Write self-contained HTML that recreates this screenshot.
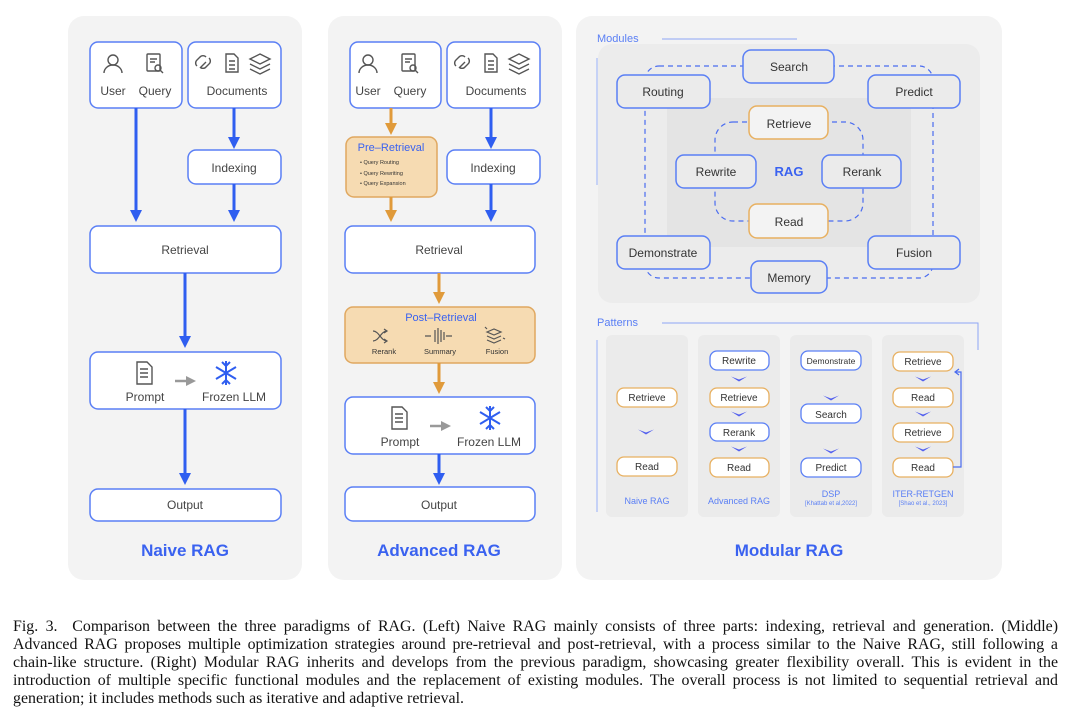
<!DOCTYPE html>
<html><head><meta charset="utf-8"><style>
body{margin:0;width:1080px;height:711px;background:#fff;position:relative;overflow:hidden;font-family:"Liberation Sans",sans-serif}
svg{position:absolute;left:0;top:0}
.cap{position:absolute;left:13px;width:1045px;font-family:"Liberation Serif",serif;font-size:15.9px;color:#111;text-align:justify;text-align-last:justify;white-space:nowrap;line-height:18px}
</style></head><body>
<svg width="1080" height="600" viewBox="0 0 1080 600" font-family="Liberation Sans, sans-serif">
<defs>
<marker id="ab" markerWidth="4" markerHeight="4" refX="2" refY="2" orient="auto" markerUnits="strokeWidth"><path d="M0,0 L4,2 L0,4 z" fill="#2f5ef0"/></marker>
<marker id="ao" markerWidth="4" markerHeight="4" refX="2" refY="2" orient="auto" markerUnits="strokeWidth"><path d="M0,0 L4,2 L0,4 z" fill="#e09a3a"/></marker>
<marker id="ag" markerWidth="4" markerHeight="4" refX="2" refY="2" orient="auto" markerUnits="strokeWidth"><path d="M0,0 L4,2 L0,4 z" fill="#999"/></marker>
<marker id="af" markerWidth="6" markerHeight="6" refX="3" refY="3" orient="auto" markerUnits="strokeWidth"><path d="M0,0 L6,3 L0,6" fill="none" stroke="#4a6cf0" stroke-width="1"/></marker>
<g id="chev"><path d="M-8,-2.5 L0,2.5 L8,-2.5 L0,0.5 z" fill="#5360ee"/></g>
</defs>
<rect x="68" y="16" width="234" height="564" rx="16" fill="#f3f3f3"/>
<rect x="328" y="16" width="234" height="564" rx="16" fill="#f3f3f3"/>
<rect x="576" y="16" width="426" height="564" rx="16" fill="#f3f3f3"/>

<g fill="#fff" stroke="#5a7ff5" stroke-width="1.5">
<rect x="90" y="42" width="92" height="66" rx="8"/>
<rect x="188" y="42" width="93" height="66" rx="8"/>
<rect x="188" y="150" width="93" height="34" rx="8"/>
<rect x="90" y="226" width="191" height="47" rx="8"/>
<rect x="90" y="352" width="191" height="57" rx="8"/>
<rect x="90" y="489" width="191" height="32" rx="8"/>
<rect x="350" y="42" width="91" height="66" rx="8"/>
<rect x="447" y="42" width="93" height="66" rx="8"/>
<rect x="447" y="150" width="93" height="34" rx="8"/>
<rect x="345" y="226" width="190" height="47" rx="8"/>
<rect x="345" y="397" width="190" height="57" rx="8"/>
<rect x="345" y="487" width="190" height="34" rx="8"/>
</g>
<g fill="#f6dbb2" stroke="#e0a860" stroke-width="1.5">
<rect x="346" y="137" width="91" height="60" rx="8"/>
<rect x="345" y="307" width="190" height="56" rx="8"/>
</g>
<g stroke="#2f5ef0" stroke-width="3" marker-end="url(#ab)">
<line x1="136" y1="108" x2="136" y2="216"/>
<line x1="234" y1="108" x2="234" y2="143"/>
<line x1="234" y1="184" x2="234" y2="216"/>
<line x1="185" y1="273" x2="185" y2="342"/>
<line x1="185" y1="409" x2="185" y2="479"/>
<line x1="491" y1="108" x2="491" y2="143"/>
<line x1="491" y1="184" x2="491" y2="216"/>
<line x1="439" y1="454" x2="439" y2="479"/>
</g>
<g stroke="#e09a3a" stroke-width="3" marker-end="url(#ao)">
<line x1="391" y1="108" x2="391" y2="129"/>
<line x1="391" y1="197" x2="391" y2="216"/>
<line x1="439" y1="273" x2="439" y2="298"/>
<line x1="439" y1="363" x2="439" y2="388"/>
</g>
<g stroke="#999" stroke-width="2.5" marker-end="url(#ag)">
<line x1="175" y1="381" x2="191" y2="381"/>
<line x1="430" y1="426" x2="446" y2="426"/>
</g>
<g fill="none" stroke="#555" stroke-width="1.4">
<g id="uq"><circle cx="113" cy="60" r="5"/><path d="M104,73 a9,8 0 0 1 18,0"/>
<rect x="147" y="54" width="13" height="17" rx="1"/><path d="M150,59h7M150,62h5"/><circle cx="158" cy="68" r="3"/><path d="M160,70l3,3"/></g>
<g id="dc"><path d="M200,68 l6,-6 M197,66 a4,4 0 0 1 0,-6 l3,-3 a4,4 0 0 1 6,0 M209,58 a4,4 0 0 1 0,6 l-3,3 a4,4 0 0 1 -6,0"/>
<path d="M226,54 h8 l4,4 v14 h-12 z M229,61h6M229,65h6M229,69h6"/>
<path d="M260,54 l10,5 -10,5 -10,-5 z M250,64 l10,5 10,-5 M250,69 l10,5 10,-5"/></g>
<use href="#uq" x="255"/><use href="#dc" x="259"/>
<g id="pr"><path d="M137,362 h10 l5,5 v17 h-15 z M140,369h8M140,373h8M140,377h8"/></g>
<use href="#pr" x="255" y="45"/>
</g>
<g id="snow" stroke="#2f5ef0" stroke-width="2" fill="none">
<path d="M226,361v24M216,367l20,12M216,379l20,-12M222,362l4,4 4,-4M222,384l4,-4 4,4"/>
</g>
<use href="#snow" x="264" y="45"/>
<g stroke="#555" stroke-width="1.2" fill="none">
<path d="M373,331 c6,0 8,10 14,10 M373,341 c6,0 8,-10 14,-10 M384,329l3,2-3,2 M384,339l3,2-3,2"/>
<path d="M425,336h6 M452,336h-6 M435,330v12 M438,328v16 M441,330v12 M444,332v8"/>
<path d="M487,332 l7,-3 7,3 -7,3 z M487,336 l7,3 7,-3 M487,340 l7,3 7,-3 M485,327l2,2 M503,338l2,1"/>
</g>

<g fill="#444" font-size="12" text-anchor="middle">
<text x="113" y="95">User</text><text x="155" y="95">Query</text><text x="237" y="95">Documents</text>
<text x="234" y="172">Indexing</text><text x="185" y="254">Retrieval</text>
<text x="145" y="401">Prompt</text><text x="234" y="401">Frozen LLM</text>
<text x="185" y="509">Output</text>
<text x="368" y="95">User</text><text x="410" y="95">Query</text><text x="496" y="95">Documents</text>
<text x="493" y="172">Indexing</text><text x="439" y="254">Retrieval</text>
<text x="400" y="446">Prompt</text><text x="489" y="446">Frozen LLM</text>
<text x="439" y="509">Output</text>
</g>
<text x="391" y="151" fill="#3a62f0" font-size="11" text-anchor="middle">Pre–Retrieval</text>
<g fill="#333" font-size="5.5"><text x="360" y="164">•  Query Routing</text><text x="360" y="175">•  Query Rewriting</text><text x="360" y="185">•  Query Expansion</text></g>
<text x="441" y="321" fill="#3a62f0" font-size="11" text-anchor="middle">Post–Retrieval</text>
<g fill="#333" font-size="7.5" text-anchor="middle"><text x="384" y="354">Rerank</text><text x="440" y="354">Summary</text><text x="497" y="354">Fusion</text></g>
<g fill="#3a62f0" font-size="17" font-weight="bold" text-anchor="middle">
<text x="185" y="556">Naive RAG</text><text x="439" y="556">Advanced RAG</text><text x="789" y="556">Modular RAG</text></g>

<rect x="598" y="44" width="382" height="259" rx="14" fill="#ececec"/>
<text x="597" y="42" fill="#5a7ff5" font-size="11">Modules</text>
<line x1="662" y1="39" x2="797" y2="39" stroke="#8ea6f5" stroke-width="1"/>
<line x1="597" y1="58" x2="597" y2="185" stroke="#b6c6f7" stroke-width="1.5"/>
<rect x="667" y="98" width="244" height="149" rx="10" fill="#e4e4e4"/>
<rect x="645" y="66" width="288" height="212" rx="14" fill="none" stroke="#4a6cf0" stroke-width="1.2" stroke-dasharray="5,4"/>
<rect x="715" y="122" width="148" height="99" rx="18" fill="none" stroke="#4a6cf0" stroke-width="1.2" stroke-dasharray="5,4"/>
<g fill="#ebebeb" stroke="#5a7ff5" stroke-width="1.5">
<rect x="743" y="50" width="91" height="33" rx="8"/>
<rect x="617" y="75" width="93" height="33" rx="8"/>
<rect x="868" y="75" width="92" height="33" rx="8"/>
<rect x="676" y="155" width="80" height="33" rx="8"/>
<rect x="822" y="155" width="79" height="33" rx="8"/>
<rect x="617" y="236" width="93" height="33" rx="8"/>
<rect x="868" y="236" width="92" height="33" rx="8"/>
<rect x="751" y="261" width="76" height="32" rx="8"/>
</g>
<g fill="#f3f3f3" stroke="#e8b060" stroke-width="1.5">
<rect x="749" y="106" width="79" height="33" rx="8"/>
<rect x="749" y="204" width="79" height="34" rx="8"/>
</g>
<g fill="#333" font-size="12" text-anchor="middle">
<text x="789" y="71">Search</text><text x="663" y="96">Routing</text><text x="914" y="96">Predict</text>
<text x="789" y="128">Retrieve</text><text x="716" y="176">Rewrite</text><text x="862" y="176">Rerank</text>
<text x="789" y="226">Read</text><text x="663" y="257">Demonstrate</text><text x="914" y="257">Fusion</text><text x="789" y="282">Memory</text>
</g>
<text x="789" y="176" fill="#3a62f0" font-size="13" font-weight="bold" text-anchor="middle">RAG</text>

<text x="597" y="326" fill="#5a7ff5" font-size="11">Patterns</text>
<path d="M662,323 H978 V350" fill="none" stroke="#8ea6f5" stroke-width="1"/>
<line x1="597" y1="340" x2="597" y2="512" stroke="#b6c6f7" stroke-width="1.5"/>
<g fill="#ebebeb"><rect x="606" y="335" width="82" height="182" rx="6"/><rect x="698" y="335" width="82" height="182" rx="6"/><rect x="790" y="335" width="82" height="182" rx="6"/><rect x="882" y="335" width="82" height="182" rx="6"/></g>
<g fill="#fff" stroke="#e8b060" stroke-width="1.3">
<rect x="617" y="388" width="60" height="19" rx="7"/><rect x="617" y="457" width="60" height="19" rx="7"/>
<rect x="710" y="388" width="59" height="19" rx="7"/><rect x="710" y="458" width="59" height="19" rx="7"/>
<rect x="893" y="352" width="60" height="19" rx="7"/><rect x="893" y="388" width="60" height="19" rx="7"/><rect x="893" y="423" width="60" height="19" rx="7"/><rect x="893" y="458" width="60" height="19" rx="7"/>
</g>
<g fill="#fff" stroke="#5a7ff5" stroke-width="1.3">
<rect x="710" y="351" width="59" height="19" rx="7"/><rect x="710" y="423" width="59" height="18" rx="7"/>
<rect x="801" y="351" width="60" height="19" rx="7"/><rect x="801" y="404" width="60" height="19" rx="7"/><rect x="801" y="458" width="60" height="19" rx="7"/>
</g>
<g fill="#333" font-size="10" text-anchor="middle">
<text x="647" y="401">Retrieve</text><text x="647" y="470">Read</text>
<text x="739" y="364">Rewrite</text><text x="739" y="401">Retrieve</text><text x="739" y="436">Rerank</text><text x="739" y="471">Read</text>
<text x="831" y="364" font-size="8.5">Demonstrate</text><text x="831" y="418">Search</text><text x="831" y="471">Predict</text>
<text x="923" y="365">Retrieve</text><text x="923" y="401">Read</text><text x="923" y="436">Retrieve</text><text x="923" y="471">Read</text>
</g>
<path d="M953,467 H961 V372 H956" fill="none" stroke="#4a6cf0" stroke-width="1.2"/>
<path d="M959,369 L955,372 L959,375" fill="none" stroke="#4a6cf0" stroke-width="1.2"/>
<use href="#chev" x="646" y="432"/>
<use href="#chev" x="739" y="379"/><use href="#chev" x="739" y="414"/><use href="#chev" x="739" y="449"/>
<use href="#chev" x="831" y="398"/><use href="#chev" x="831" y="451"/>
<use href="#chev" x="923" y="379"/><use href="#chev" x="923" y="414"/><use href="#chev" x="923" y="449"/>
<g fill="#5a7ff5" font-size="9" text-anchor="middle">
<text x="647" y="504">Naive RAG</text><text x="739" y="504">Advanced RAG</text><text x="831" y="497">DSP</text><text x="923" y="497">ITER-RETGEN</text>
<text x="831" y="505" font-size="6">[Khattab et al,2022]</text><text x="923" y="505" font-size="6">[Shao et al., 2023]</text>
</g>
</svg>
<div class="cap" style="top:618px">Fig. 3.&nbsp; Comparison between the three paradigms of RAG. (Left) Naive RAG mainly consists of three parts: indexing, retrieval and generation. (Middle)</div>
<div class="cap" style="top:636px">Advanced RAG proposes multiple optimization strategies around pre-retrieval and post-retrieval, with a process similar to the Naive RAG, still following a</div>
<div class="cap" style="top:654px">chain-like structure. (Right) Modular RAG inherits and develops from the previous paradigm, showcasing greater flexibility overall. This is evident in the</div>
<div class="cap" style="top:672px">introduction of multiple specific functional modules and the replacement of existing modules. The overall process is not limited to sequential retrieval and</div>
<div class="cap" style="top:690px;text-align-last:left">generation; it includes methods such as iterative and adaptive retrieval.</div>
</body></html>
